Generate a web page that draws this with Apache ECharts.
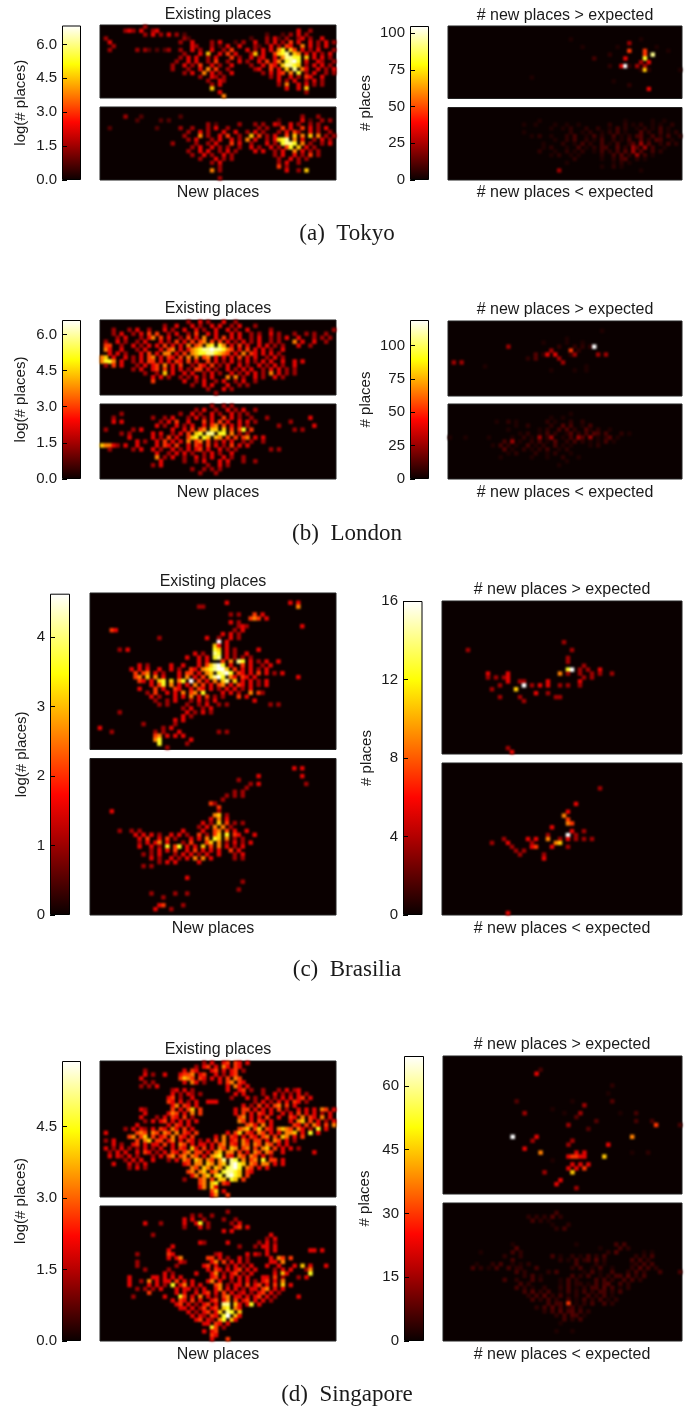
<!DOCTYPE html>
<html><head><meta charset="utf-8">
<style>html,body{margin:0;padding:0;background:#fff}#c{width:696px;height:1410px}</style>
<script src="https://cdn.jsdelivr.net/npm/echarts@6/dist/echarts.min.js"></script>
</head><body><div id="c"></div>
<script>
// Cell intensity: . empty, a b c faint, 1-9 fraction of colour scale (9 = top)
const LEVEL={a:0.3,b:0.5,c:0.8};
const tokyoExisting=[
"...........2",
"......232.3..23...................................3..2",
"...........2.3.2.3.2.1....................1...1.2.3.2",
".2...................21...............1...2.31.2..23.2..3",
"..3.................2..3....2.3...1.2..3..2.3.2.4.3..3.2.3.2",
"...2...................32...2.1.3..3...21..3.2.43..5.3.2.3..2",
"..2......2.21.1.12..2..3.2..3..2.4...3.2.3.3.57.64.3.2.3...23.2",
".....................2...3.6..3.4.3...26.3..4678.65.3.3.2.3..2",
"....................2.3.3..2.3...4.2..3.23..3.58877.6.3.3.2.3",
"...................2..3.3..2.4..2..3.2..3.4.35.7897.3..32..2.3",
"..................2..3.2.4..3.2..3....2..3.43.68876.2.3.3.2.3.2",
"..................2...2..3.5.4..2......23..4.3.6.8.53..3.2.3.2",
".....................2.3..5.3.2..3.......2.3.34.5.7.2.3..2.2",
".........................2..32.2...........2.3..3.2.43..3",
"...........................2..32.............3.2.3..2.3.2",
"............................2.3..............2.5..3.3.2.2",
"............................6..................3..3.6",
"..............................3.....................2",
"...............................5"];
const tokyoNew=[
"","",
"......2...1.........1..............................2...2",
".........1.....1.1...........................1.....3.1..2.2",
"...........................2.1.....2...2.2..32..3.2..2.2",
"..1...........1.....2..2...2.3..2.......2.2...4.3..4.3.2.3",
"......................2..3.2...3..3..2.3.2...2.3.42..3.2..2",
".....................2...5.2..3.4..2..6.4.2.3..4.6.5.6.5.2.2",
"......................2.3...2.3..3.2.5.3..2.3678.5.3..2.3.2",
"..................2.....2..2.3...4.3..2...3.2.7887.5.2..2.3",
".......................2.3..3.2.2..2..3.2..3.2.47.6.3.2",
"......................2..3.3..2.3.2....3.3..2.3..5.3.2.2",
".......................2..3.2..3.2..........2.3..3.2.4.2",
".........................2...3.2.2...........2..3.2.2",
"............................2.3..............2.3..2",
"..............................2..............4.2",
"............................5.2................3..2.6",
"",
"..............................2"];
const tokyoAbove=[
"","","",
"...............................a.................a",
"..............................................2",
"..................................a........a.........a",
"..............................................4...4.....a",
".........................................b........4.8",
".....................................c.......3....7",
".................................................2.3",
".........................................b..39b.2.2",
".................................................b6b.......a",
"",".....................a",
"..........................................a",
"..............................................b",
"...................................................3"];
const tokyoBelow=[
"","","",
".......................a.....................a......a..a",
"...................a..a....a..a..a.......b...b.a.b..a.a..b",
"..........................a..a.b...b..b..a.c.b..a.b.a.c.a",
"...................a...........b..a.b..a.b.c.a...1.b..c.a.b",
".....................a.b..a...b.c..a.c.b..c.a.b.c1..c.b.c..b",
"...........................a..b.c..b.a.c..b.a.c..1.b.1c..a",
"........................a....b..a.c.b..c.a.c..b1.2.1..b.c.b.c",
"........................a.b...a..c.a.b.cc..1.b.21.2.c..a",
".......................b...a..b.a.b..a.c.b.c.1.2.1..c.b",
"..........................a.b..a.a.....b..c.1.b.2.c.a",
"................................b......a..b.c1..b.a",
"..............................a...........a.b.a",
".......................................a..b.a",
"............................2....................a"];
const londonExisting=[
"......................2..3.2...3..2",
"................2..3...3.2..3.3..2.3...2",
"...2...2.3..2...3.2..3..3.2..3..3.2..3.....2...............2",
"...2.3..2.3.4.4..2.3..2.4..3.3...3.3..2.2..3.2...2..2.2..2",
"....2.3...2.35.4.3..2.4.3.5..3.4.3.3..2.3..2.2.3..3...2.2.2",
".2..3.2..2.3...3.2.4.3.4.45.4.4.3.2.3.2.3..2.2...5.3..3..2",
".44..2..3.2.3.3.4.3.3.5.45.67.75.3.4.3..3.3.2.2...3..2",
".53..3...2.3...3.45.3.356788988754.3.4.3.3.2..3",
"..3.3.2...3.4.3.55.3.4.5677887654.3.5.43.3.3.2",
"56.3..3.2.3.45.3.43.4.5.5.45.3.3.3.4.3.3..2.3.2",
"5775.3..2.3.44.3.3.43.4.3..4.3.2.3.2.3.2.3.3..3..3.3",
".2.4.3...2.3.34.5.3.4..2.43.4.2.3..3.2..3.2.3.2..3",
"........2.3..34.4.3.3.2.44.3.2..3.2.3.3..2.3.3.2.2",
"...........2..2.6.3..3.3..2.3.2..3.2.3.3.2.5.3.2.2",
".............3.3.2..2.2.3.2.3...5.5.2..3.2..3.2",
".............4.......3..2.3..2.3..2.3..2",
".......................2..3.3...3..2.2",
"...........................2...3.2",
".............................2"];
const londonNew=[
"............................2..2.2",
"........................2.3..2..3.2.3..2",
".....2..............2..3.2..3.2..3.2.2",
"...2.........2..2.3...2.3.2.3..4.3.2..2...2..........3",
"...3.3.........2.3.4..3...4.3.4.3..3.3.2........2",
"..............3.2..3.2.3..3.45.4.3.3.2.......2........3",
".2......2.3.......3..3.4.45.66.6.4.47.4..........2.2",
".....2.2.....3.3..2.3.4.67.88.77.5.2.2",
".......3.....3.2.4.3..467.76.65.4.4.45.3.3",
".........3.2..3.4.3.3.5.45.4.2.3.3..2.2..2",
"65532.3..3....3.43.4..3.43.4.3.2.4.3.3",
"..2.....2.3..3.2..3.2.3.34.3..3.2.2........2.2",
"..............3..2.3.3.2..2.3.2..3",
"..............5.2.3..2..3.2.3..3.2..2",
"...............3.....2..2.3...3.3...2..2",
".............2.3...........2..3.2",
".......................2..2.2.2",
".........................2...2"];
const londonAbove=[
"","",
".......................................a",
"","..............................a",
"........................a.....a...a",
"...............2............b...b.b.b9",
"..........................2....4.b",
"......................1.b3.3...b2.....2.2",
"....................b.1.....2",
".2.2.........................2",
".........a.........................a",
"..........................a.....a..a"];
const londonBelow=[
"","",
"...............................a",
"..........................a..a",
"............a..b.a.......b.a...b..b",
".................a..b.....b..1.c..a.c",
"...............a.......a.b..c.1.b..1a.b..a",
"..................a.b..a.c.b..a1.b.c.1c.c...b.a",
"a...a.....a.....a..b.a.2.b2..a.c.21.2.a.b1.a",
"..............c.2.a..b.c.a.1..b.c.b.a.a.c.a",
"...........a.c.b.a..c.a.b..c.a.a....a.b",
"..............1.a..b.a.b.c..a.b",
"...............a.b....b..a.b...a",
".............a.......a...a...b...a",
"..............................a",
"............................a"];
const brasiliaExisting=[
"","",
"..................................3...............3.3",
"...........................22.......................5",
"",
"...................................2.2...4.3",
"........................................454.3",
"...................................3.2",
".....................................232.............3",
".....43.............................2.3",
".................................3.3.2",
".................2...........3..2..3.2",
"................................9.3",
"...............................63.3",
".......2.3.....................76.3.2.....3",
"..........................3.2..87.3.2..3",
"........................3..3.3.78.3.2.2.2",
"...........................3.3...4.5.87.3.2.3..3",
"............3.2.....3..3...3.46897.3..4.3..2.3",
"..........3.3.3..3..3.2..43.5678996.4.3.3.2.3",
"...........4.45.3.2...3.44.3.56.7897.43.3.4.3.2.3",
"...........45.6.5.3...3.5.3.4.6897.53.43.3..........3",
"............43.3.67.6.57.9.4.3.5.68.6.3.3.2.3",
"...............3.47.5.3.3.5.4.3.45.3.43.3.2.3",
"............3...4.3..43..3.43.3.2.3.3.2.3",
"..............2.4..3.3.5.45.7....3.3.2..5.42",
"...............3.2...3.3.5.3.4.2.2...4.3",
"................2..2.3...2.3.2.3.........3",
".................2.2....2..2.3..2.2..........2.2",
".......................2.3..2.3",
".......2................3.2.3.2",
".......................3.2",
".....................3.3",
".............2.......2",
"..3...............2.3",
".....2..........2.2...3.........2.2",
"................45.3.3.3",
"................57.......3",
".................7......2",
"...................2"];
const brasiliaNew=[
"","",
"...................................................3.3",
"",
"..........................................3..........3",
".....................................2",
"........................................2.3...........2",
".......................................2",
"....................................2.2",
"..................................2.2.2",
".................................2",
"..............................42",
"................................4",
".....3..........................2",
"...............................56.2",
"..............................3.5.3",
"............................3.2.6.4.2.2",
"...........................2.3.5.5.2",
".......2..2.2..........3....3..45.4.3..3",
"...........3.3.3.2..3.3.2..4.2.46.7.43...3",
"............3.4..3.4.2...3.3.5.76.5.2.2",
"............2.3.35.3...2.4...46.5.2.3.2.3",
"............3..3.2.7.47.3.3.6.4.5.3.2.3",
"...............2.3.3.4..3.4.3.3.3..4.3",
".............2.2.3...2.3.3.2.3..3...2.3",
"...............3.2..3.2.3.5.5.3.....2.2",
".................2.3.3.....3",
".............2.2",
"","",
"........................3",
"......................................2",
"",
".....................................2",
"...............2.....2..2",
"..................2",
"",
".................34....2",
"................3...2"];
const brasiliaAbove=[
"","","","","","","","","","","..............................2",
"","......2.........................2",
"","...............................2",
"...............................2",
"...................................2",
"...............................79.2.2..3",
"...........3....3............5.2..2..2.2..2",
"...........2.2.23..................2.2",
"................3..22.....3.......3",
"..............2.....9.2.3.3..2.2..2",
"............2.....6",
".......................3..2",
"..............2....2........22",
"....................2",
"","","","","","","","","","","",
"................2",
".................3"];
const brasiliaBelow=[
"","","","","","",
".......................................2",
"","","",
".................................3",
"",
"...............................3",
"..............................5",
"...............................4",
"...............................54",
"...........................3",
"................................3..2",
"..........................2....9.2",
"...............2.....3.3..5..2.3.2.2.2",
"............2...3.....2.....56",
".................2....34...3...2",
"..................2.2",
"...................2.....2",
".........................3","","","","","","","","","","","","","",
"................3"];
const singaporeExisting=[
"..........................2.3..34.43.3",
"........................2.34.3.53.43",
"...........2.........3.43...34.3.34.2",
"...........3.2..3...3445.34..3.2.34",
"..........3.........4654.43.3.3.4.54",
"...........2.2.......3.53.2...3.45.43",
"..........2.2.3.................3.53.3",
"..................23.3.2........3..34.2..2...2.3.23",
"..................3.2.32.2........3.3....2..3.2.2.3.2",
".................34.2..3.........2...3.2..3.2.3.3.34.3",
".................43.3.2.3..333.........2.3.2.3.3.43.2",
"..................35.43.3...........3.2.4.3.45.4.3",
"..........32......4.3.46.4........3.44.3.3.3.4.2..3.3.3.54.3",
"...........3.....354.3.5.4........3.4.3.43.3..3.3.4.3.3.2.3",
"..........3...2.3.43.4.2...........45.3.3.4..3..43.5.43.5.3.3",
"...........2.3.34.3.3.3.3..........54.3.43.3....3.56.4.3.2.3",
".........3.......3.43.3..............453.5.3.....43.4.53.4.5",
"......2.3.32.3.43.53.4.3...........456.46.43.5654.53.2.7.3",
".3.......454.54.54.5.43.4.......3.46.43.54.3.3.556.3.7.3",
".......45.46.4.34.5.43.4.....3.5.43.3.43.45.4.65.3.4",
".2.3.....4.56.44.35.3.43.2.3.4.5.34.53.44.3.54.3.2",
"...3.2..34.3.33.4.3.54.3.33.3.45.43.54.54.54.3.3",
".3.2.3.2.2.3.2.3..3.43.63.4.3.54.65.45.4.56.4.3.3.2",
"..2.3.3..3.43.2.3.43.45.44.3.56.55.4.3.54.54..3.......3",
"..3.32.3.2...2.3.45.45.54.3.567.43.54.54.3.2",
"......2.3.3..3...2.3.54.65.54.58.87.5.45.7.44.3",
"...3...3.2.3.........34.55.65.56.8976.54.55.3.3",
".......2.3.2...........54.65.65.7897.54.3.3",
"......................45.56.45.78876.43",
".......................35.56.67.8976.4",
".....................2...45.4.66.76.4",
".........................45.67.43",
".........................35.63",
"............................46.3",
"............................35..4"];
const singaporeNew=[
"",
"................................2",
".......................2.2..2",
".....................3.3..2....2..2",
"...........3...2.....3..37.2.....2.3",
".....................2...3.2......34.3",
"...............................3.3",
".............2.............................3",
"..........................................2.3",
".........................32.....3.......2.3.2",
"..................3................2...2.33.3",
".................3........................3.3........33.3",
".........2.......43..........23......3.32.3",
".................3.35......44.3.2..3.2.....3.54.4",
".........2..........32......35.4.3.3.2.....33.5",
".........2.........2......34.3..2.3.2.3...3..3...3.6.3...3",
"...........2.....2.........3.43.3.34.3.3....2.3.3...25",
"................3.2.....3...35.2.34.2.3.....3.63.....7",
".......3.....33.3.3.3.......34.3.3.3.3...33.4.2...2.3",
".......3..2.5.3.33.4.3.3...35.3..2.3.3.2.34.3.5",
".......3....3.3.2.7.35.3.3...45.2.33.4.34.3.4.6.3",
".........2.2.2.3...3.33.2.3..35.3.3.2.33.45.3.3",
"............4......3.3..3.34.3.4.3.23.2.34.3.2",
"........2.......3...74.3.5.3.2.45.33.3.34.3.2.....3",
"..................3.43.4.3..34.35.4.34.3.3.2",
"...................34.3.2.34.3.88.63.37.3",
"....................33.3.24.34.67.53",
"......................3.2.34.36.87.6",
".......................3.32.43.79.63",
"........................34.32.57.63",
"..........................33.43.3",
"............................74.2",
"..........................3.34",
"............................43",
"............................3...4"];
const singaporeAbove=[
"","","",
"........................c",
".......................3",
"","","..........................................b",
"",
".........................................a",
"",
"..................1.............a.........1",
"...................................2",
"...........................a",
"....................2.........a...2.........a...c",
".................................1",
"......................................1.........c...c",
"...............................2.....................4.....c",
"....................................1",
"",
".................9.....3.......................5",
"......................2.........2",
"...............................2.........3",
"....................3",
"........................5........3.3...........a...b",
"...............................34433....6",
"...........................a",
"................................3.3.3",
"...............................3.3.4",
".........................2......6",
"",
".............................3",
"............................3",
".................................2"];
const singaporeBelow=[
"","",
"............................c",
".....................b.b.b.1.b",
"......................c.b.a",
"...........................a...b",
"............................b.c",
"","","",
".................a...............a.........c.c",
"..................1....................a....c.b",
".........a.......c.b.....................b.1......a.a.......b",
"...............b...b.......c.a..b.a.c.b.c.......b.b.c",
".................c...........b.a.c.bc.1.b......c.c.b",
"........a...b.c..a.a.b...........c....b.a......ab.c.c.......b",
".......c.b.a.c..c.bb...c........b.c..a.c..a....b.1.c.b",
"..................c.b.....b.c......a.c.a..c...b.c.b...c....c",
"....................b.c.a.......c.b.c..a.b.cc.1.b.c",
"...............c..b...c.b....a.c.b....c.c.b..c.c.b",
"...................c.b.......a.c.bb.a.c.c1..c.b",
"..................c.b.a..b...b.c.a.b.cc.1.c.a.b",
"....................c.1.b.c..a.c.b.c.b.cc.b.c",
".....................b.c.1.b.c.a.b..c.b.c.a",
"......................c.b.c.b..c.a.c.b.c.a.b",
"..........................c.cc.4.a.b.c..c.b",
".......................b.c.1.c.bc.b",
".........................b.c.1.c1.c.b",
"............................b.c.1c.a",
"..............................c.b.c",
".............................a",
"",
"............................a...a"];
const tokyoTicksLeft=['0.0','1.5','3.0','4.5','6.0'], tokyoTicksRight=['0','25','50','75','100'];
const londonTicksLeft=['0.0','1.5','3.0','4.5','6.0'], londonTicksRight=['0','25','50','75','100'];
const brasiliaTicksLeft=['0','1','2','3','4'], brasiliaTicksRight=['0','4','8','12','16'];
const singaporeTicksLeft=['0.0','1.5','3.0','4.5'], singaporeTicksRight=['0','15','30','45','60'];
const scaleTops=[6.84,105,6.6,119,4.62,16,5.88,67];
const captions=['(a)  Tokyo','(b)  London','(c)  Brasilia','(d)  Singapore'];
const HOT=['#0a0000','#5e0000','#b30000','#ff0500','#ff5a00','#ffad00','#ffff05','#ffff80','#ffffff'];

const layout=[
 {max:scaleTops[0],ticks:tokyoTicksLeft,name:'log(# places)',bar:[62,19,25.5,154.5],x:100,w:236,a:[25,73],b:[107,73],rows:[tokyoExisting,tokyoNew],t:['Existing places',14,'New places',192],cx:218,gap:34},
 {max:scaleTops[1],ticks:tokyoTicksRight,name:'# places',bar:[410,19,26,154],x:448,w:234,a:[26,72.5],b:[107.5,72.5],rows:[tokyoAbove,tokyoBelow],t:['# new places > expected',15,'# new places < expected',192],cx:565,gap:37},
 {max:scaleTops[2],ticks:londonTicksLeft,name:'log(# places)',bar:[62,19,320,159],x:100,w:236,a:[320,75],b:[404,75],rows:[londonExisting,londonNew],t:['Existing places',308,'New places',492],cx:218,gap:34},
 {max:scaleTops[3],ticks:londonTicksRight,name:'# places',bar:[410,19,320,159],x:448,w:234,a:[321,75],b:[404,75],rows:[londonAbove,londonBelow],t:['# new places > expected',309,'# new places < expected',492],cx:565,gap:37},
 {max:scaleTops[4],ticks:brasiliaTicksLeft,name:'log(# places)',bar:[50,20,593.7,321.3],x:90,w:246,a:[593,156.5],b:[758.5,156.5],rows:[brasiliaExisting,brasiliaNew],t:['Existing places',581,'New places',928],cx:213,gap:21},
 {max:scaleTops[5],ticks:brasiliaTicksRight,name:'# places',bar:[403,19.5,601,314],x:442,w:240,a:[601,153],b:[763,152],rows:[brasiliaAbove,brasiliaBelow],t:['# new places > expected',589,'# new places < expected',928],cx:562,gap:29},
 {max:scaleTops[6],ticks:singaporeTicksLeft,name:'log(# places)',bar:[62,19,1061,280],x:100,w:236,a:[1061,136],b:[1206,135],rows:[singaporeExisting,singaporeNew],t:['Existing places',1049,'New places',1354],cx:218,gap:34},
 {max:scaleTops[7],ticks:singaporeTicksRight,name:'# places',bar:[404,20,1056,285],x:443,w:239,a:[1056,138],b:[1203,138],rows:[singaporeAbove,singaporeBelow],t:['# new places > expected',1044,'# new places < expected',1354],cx:562,gap:32}
];
const captionY=[233,533,969,1394];
const grids=[],xAxes=[],yAxes=[],series=[],visualMaps=[],titles=[];
const sans='"Liberation Sans"', serif='"Liberation Serif"';
const nRows=[19,19,19,19,40,39,35,35];
const tsty={fontFamily:sans,fontSize:16,fontWeight:'normal',color:'#1a1a1a'};
layout.forEach((L,li)=>{
  const gi=grids.length;
  grids.push({left:L.bar[0],width:L.bar[1],top:L.bar[2],height:L.bar[3],zlevel:2});
  xAxes.push({gridIndex:gi,type:'category',data:[''],show:false,zlevel:2});
  const vals=L.ticks.map(Number);
  yAxes.push({gridIndex:gi,type:'value',min:0,max:L.max,zlevel:2,z:5,
    name:L.name,nameLocation:'middle',nameRotate:90,nameGap:L.gap,
    nameTextStyle:{fontFamily:sans,fontSize:15,color:'#1a1a1a'},
    axisLine:{show:false},splitLine:{show:false},
    axisTick:{show:true,inside:true,length:5,lineStyle:{color:'#000',width:1},customValues:vals},
    axisLabel:{show:true,fontFamily:sans,fontSize:15,color:'#1a1a1a',margin:5,customValues:vals,
      formatter:v=>L.ticks[vals.indexOf(v)]}});
  series.push({type:'bar',xAxisIndex:gi,yAxisIndex:gi,data:[L.max],barWidth:'100%',zlevel:2,silent:true,
    itemStyle:{borderColor:'#000',borderWidth:1,color:{type:'linear',x:0,y:0,x2:0,y2:1,
      colorStops:HOT.map((c,i)=>({offset:1-i/(HOT.length-1),color:c})).reverse()}}});
  const idx=[];
  [L.a,L.b].forEach((box,k)=>{
    const g=grids.length;
    grids.push({show:true,left:L.x,width:L.w,top:box[0],height:box[1],backgroundColor:HOT[0],borderColor:'#222',borderWidth:1,zlevel:0});
    const cols=[...Array(li==4?62:60).keys()], rws=[...Array(nRows[li]).keys()];
    xAxes.push({gridIndex:g,type:'category',data:cols,show:false,zlevel:1});
    yAxes.push({gridIndex:g,type:'category',data:rws,inverse:true,show:false,zlevel:1});
    const d=[];
    L.rows[k].forEach((s,r)=>{[...s].forEach((ch,c)=>{
      if(ch==='.'||c>=cols.length||r>=rws.length)return;
      const lv=LEVEL[ch]!==undefined?LEVEL[ch]:Number(ch);
      d.push([c,r,lv/9*L.max]);
    });});
    idx.push(series.length);
    series.push({type:'heatmap',xAxisIndex:g,yAxisIndex:g,data:d,zlevel:1,progressive:0,silent:true,emphasis:{disabled:true}});
  });
  visualMaps.push({show:false,seriesIndex:idx,min:0,max:L.max,dimension:2,inRange:{color:HOT}});
  titles.push({text:L.t[0],left:L.cx,top:L.t[1]-7,textAlign:'center',padding:0,zlevel:2,textStyle:tsty});
  titles.push({text:L.t[2],left:L.cx,top:L.t[3]-7,textAlign:'center',padding:0,zlevel:2,textStyle:tsty});
});
captions.forEach((c,i)=>titles.push({text:c,left:347,top:captionY[i]-11,textAlign:'center',padding:0,zlevel:2,textStyle:{fontFamily:serif,fontSize:23,fontWeight:'normal',color:'#1a1a1a'}}));
const chart=echarts.init(document.getElementById('c'),null,{renderer:'canvas'});
chart.setOption({animation:false,tooltip:{show:false},title:titles,grid:grids,xAxis:xAxes,yAxis:yAxes,visualMap:visualMaps,series});
const cv=document.querySelectorAll('#c canvas');
if(cv.length>2)cv[1].style.filter='blur(0.9px)';
</script></body></html>
